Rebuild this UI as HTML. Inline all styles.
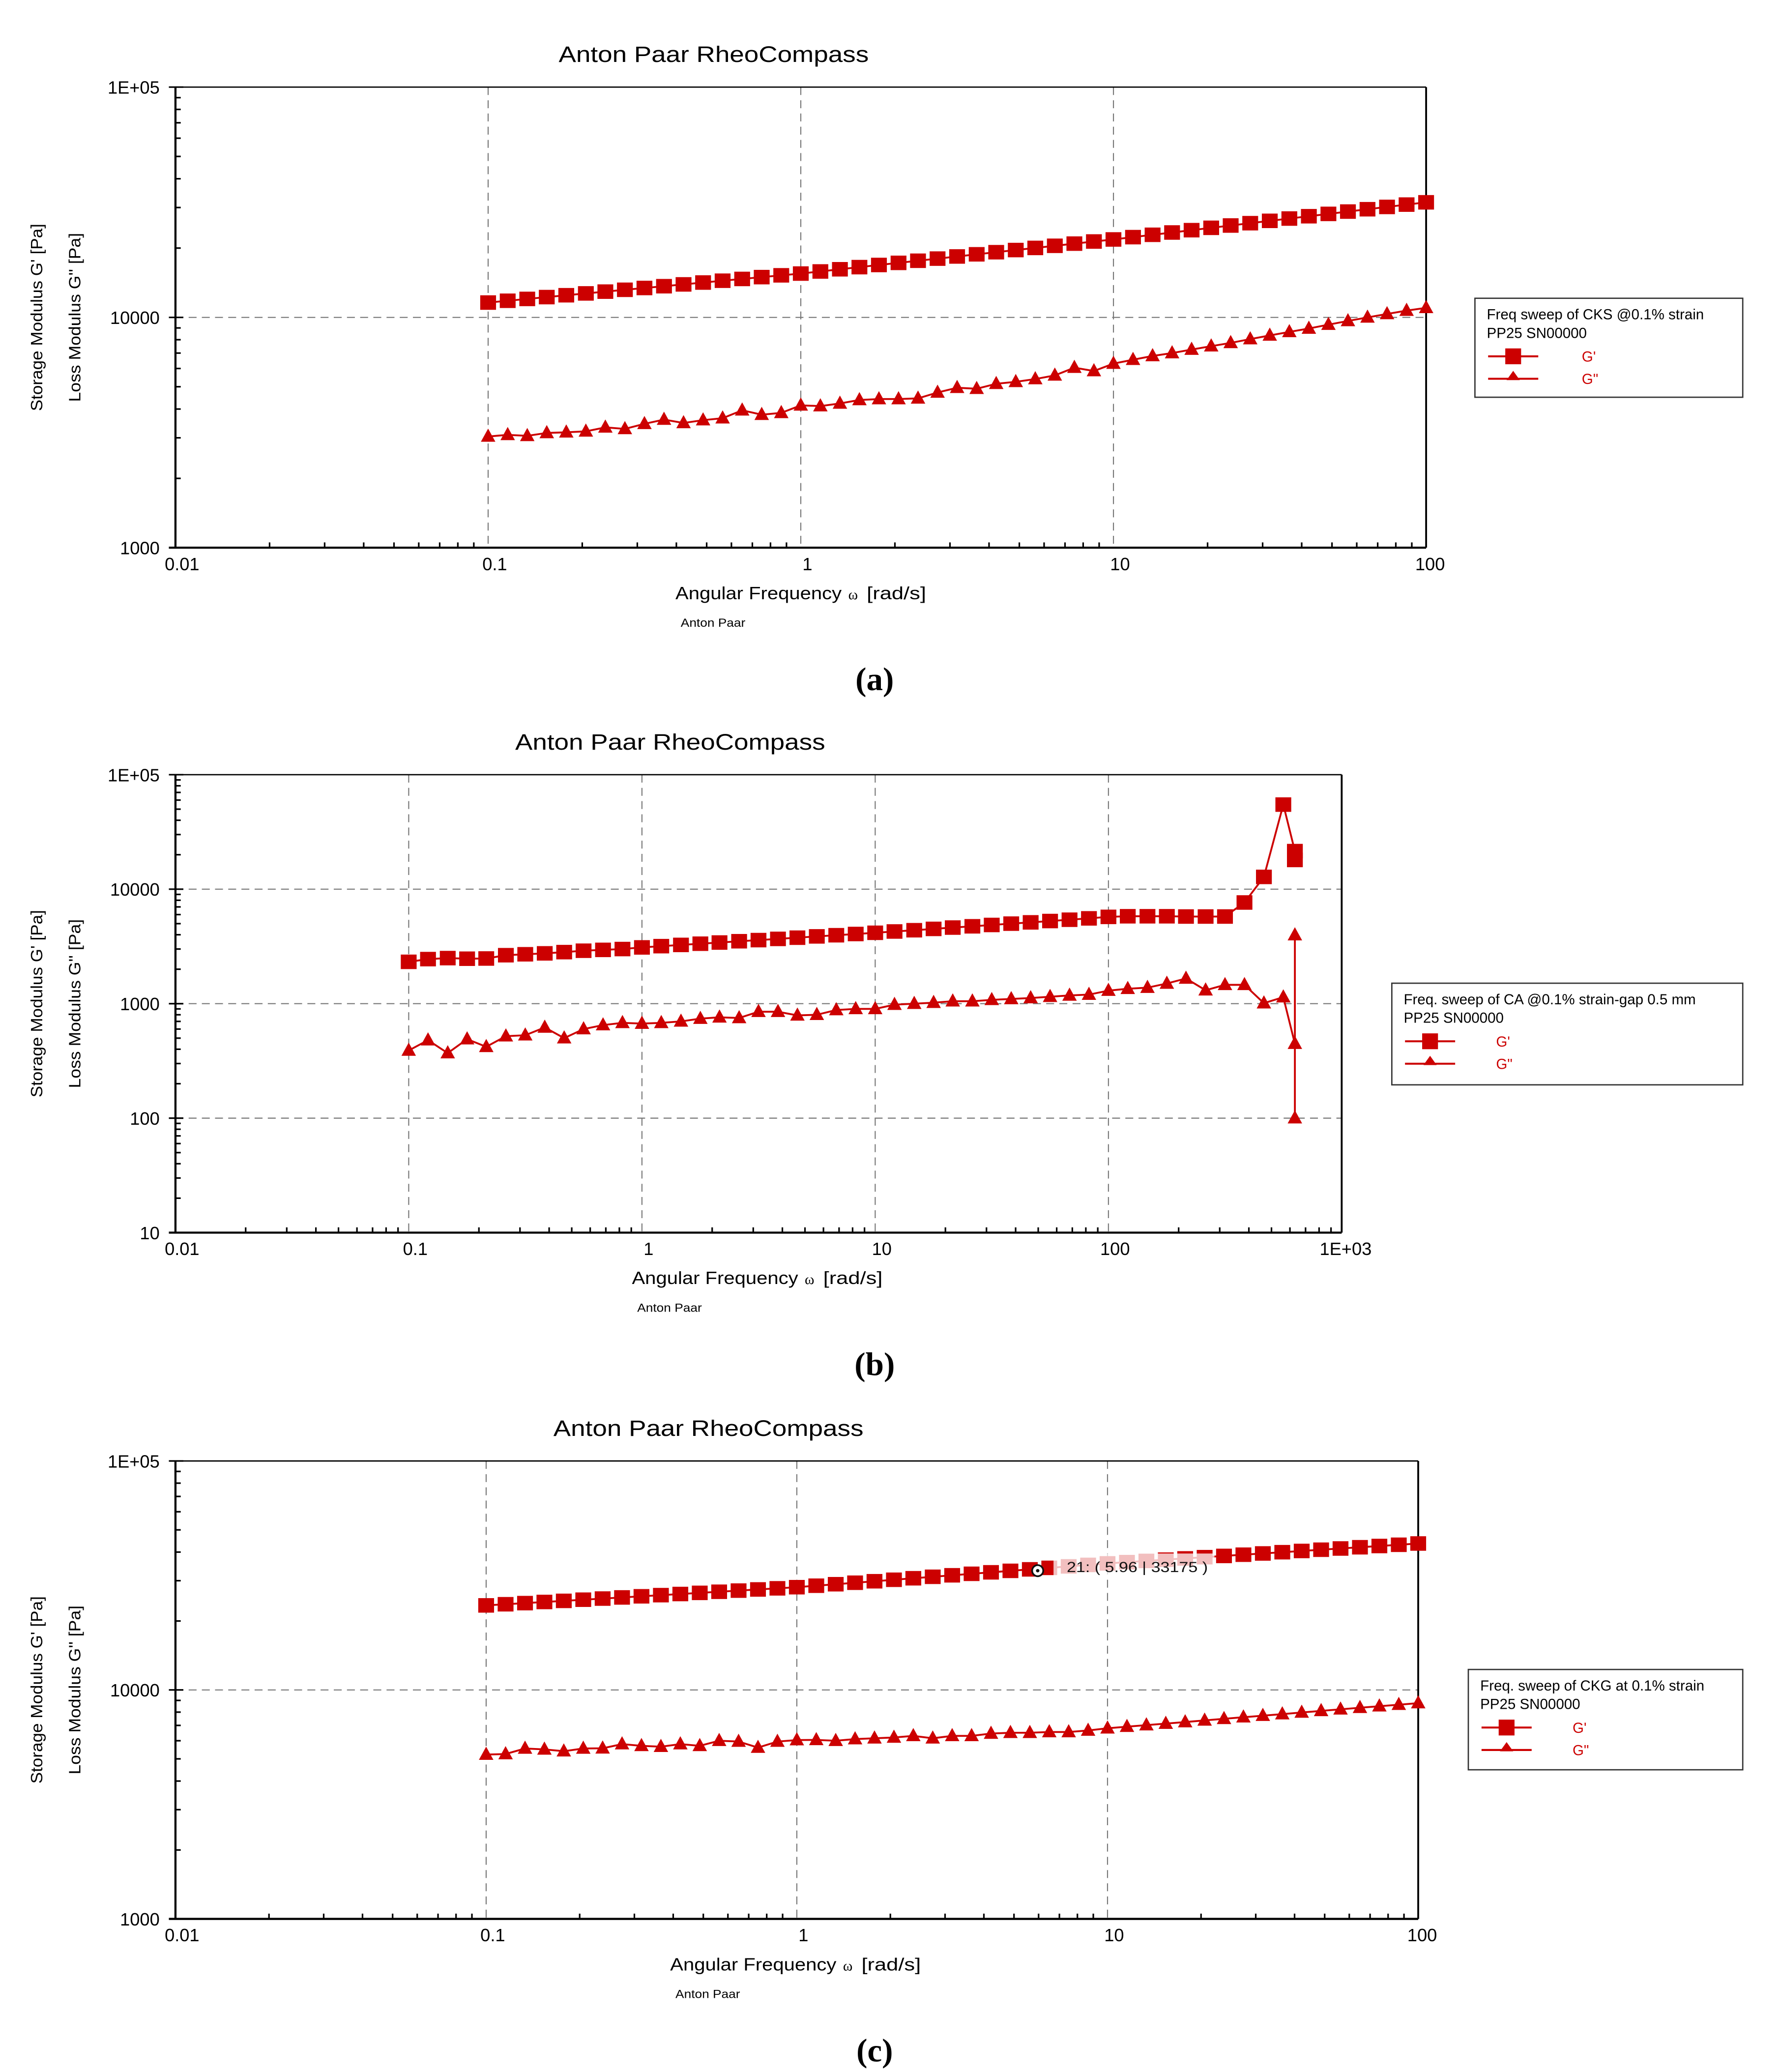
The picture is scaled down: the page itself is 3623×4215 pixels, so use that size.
<!DOCTYPE html>
<html><head><meta charset="utf-8">
<style>
html,body{margin:0;padding:0;background:#fff;}
svg{display:block;}
text{font-family:"Liberation Sans",Arial,sans-serif;}
</style></head>
<body>
<svg id="fig" width="3623" height="4215" viewBox="0 0 1350 1570" preserveAspectRatio="none" xmlns="http://www.w3.org/2000/svg">
<rect width="1350" height="1570" fill="#fff"/>
</svg>
<script>
// ---------- Panel (a) data ----------
const freqA = [0.1,0.1155,0.1334,0.154,0.1778,0.2054,0.2371,0.2738,0.3162,0.3652,0.4217,0.487,0.5623,0.6494,0.7499,0.866,
1,1.155,1.334,1.54,1.778,2.054,2.371,2.738,3.162,3.652,4.217,4.87,5.623,6.494,7.499,8.66,
10,11.55,13.34,15.4,17.78,20.54,23.71,27.38,31.62,36.52,42.17,48.7,56.23,64.94,74.99,86.6,100];
const gpA = [11600,11810,12030,12250,12480,12710,12940,13180,13420,13660,13910,14170,14430,14690,14960,15230,
15500,15830,16180,16530,16890,17250,17620,18000,18390,18790,19190,19610,20030,20460,20910,21360,
21800,22310,22840,23370,23920,24490,25060,25650,26260,26870,27500,28150,28810,29490,30180,30890,31600];
const gppA = [3040,3090,3060,3150,3170,3200,3330,3280,3450,3600,3480,3580,3650,3950,3780,3850,
4150,4120,4230,4380,4420,4420,4450,4720,4950,4900,5150,5250,5400,5600,6050,5850,
6300,6550,6800,7000,7250,7500,7750,8050,8350,8650,8950,9300,9650,10000,10350,10700,11000];

// ---------- Panel (b) data ----------
const freqBgp = [0.1,0.121,0.147,0.178,0.215,0.261,0.316,0.383,0.464,0.562,0.681,0.825,
1,1.21,1.47,1.78,2.15,2.61,3.16,3.83,4.64,5.62,6.81,8.25,
10,12.1,14.7,17.8,21.5,26.1,31.6,38.3,46.4,56.2,68.1,82.5,
100,121,147,178,215,261,316,383,464,562,630,630];
const gpB = [2320,2450,2500,2470,2480,2650,2700,2750,2820,2900,2950,3000,
3100,3180,3260,3340,3420,3510,3590,3680,3770,3870,3960,4060,
4160,4270,4380,4500,4620,4740,4870,5000,5130,5270,5410,5560,
5730,5800,5800,5800,5770,5770,5770,7650,12800,54800,21500,18000];
const freqBgpp = [0.1,0.121,0.147,0.178,0.215,0.261,0.316,0.383,0.464,0.562,0.681,0.825,
1,1.21,1.47,1.78,2.15,2.61,3.16,3.83,4.64,5.62,6.81,8.25,
10,12.1,14.7,17.8,21.5,26.1,31.6,38.3,46.4,56.2,68.1,82.5,
100,121,147,178,215,261,316,383,464,562,630,630,630];
const gppB = [390,480,370,490,420,520,530,620,500,600,650,680,
670,680,700,740,760,750,850,850,790,800,880,900,
900,980,1000,1020,1050,1050,1080,1100,1120,1150,1180,1200,
1300,1350,1380,1500,1660,1310,1460,1460,1010,1140,447,3970,100];

// ---------- Panel (c) data ----------
const freqC = freqA.slice();
const gpC = [23400,23670,23940,24220,24490,24780,25060,25350,25640,25940,26240,26540,26840,27150,27470,27780,
28100,28520,28950,29390,29830,30280,30740,31200,31670,32150,32630,33120,33620,34130,34640,35160,
35700,36150,36600,37060,37530,38000,38480,38960,39450,39950,40450,40960,41470,41990,42520,43050,43600];
const gppC = [5220,5250,5550,5500,5400,5550,5560,5800,5700,5650,5800,5700,6000,5950,5600,5950,
6040,6050,6000,6100,6150,6200,6300,6150,6300,6300,6450,6500,6500,6550,6550,6650,
6800,6910,7020,7130,7240,7360,7480,7600,7720,7840,7970,8100,8230,8360,8490,8620,8760];
const tooltipC = [5.96, 33175];

const xTicksA = ["0.01","0.1","1","10","100"];
const yTicksA = ["1000","10000","1E+05"];
const xTicksB = ["0.01","0.1","1","10","100","1E+03"];
const yTicksB = ["10","100","1000","10000","1E+05"];

const NS = "http://www.w3.org/2000/svg";
const svg = document.getElementById('fig');
const RED = "#cc0000";

function mk(tag, attrs, parent){
  const e = document.createElementNS(NS, tag);
  for (const k in attrs) e.setAttribute(k, attrs[k]);
  (parent||svg).appendChild(e);
  return e;
}
function txt(s, attrs, parent){ const t = mk('text', attrs, parent); t.textContent = s; return t; }

function panel(P){
  const g = mk('g', {});
  
  
  const lx0 = Math.log10(P.xmin), lx1 = Math.log10(P.xmax);
  const ly0 = Math.log10(P.ymin), ly1 = Math.log10(P.ymax);
  const X = v => P.x0 + (Math.log10(v) - lx0) / (lx1 - lx0) * (P.x1 - P.x0);
  const Y = v => P.y1 - (Math.log10(v) - ly0) / (ly1 - ly0) * (P.y1 - P.y0);

  const tt = txt("Anton Paar RheoCompass", {x:P.titleX, y:P.y0-19, 'font-size':17, 'text-anchor':'middle', textLength:235, lengthAdjust:'spacingAndGlyphs'}, g);
  
  

  const grid = mk('g', {stroke:'#777', 'stroke-width':0.8, 'stroke-dasharray':'6,4'}, g);
  
  
  for (let e = Math.ceil(lx0)+1; e < lx1; e++) {
    const x = X(Math.pow(10,e));
    mk('line', {x1:x, x2:x, y1:P.y0, y2:P.y1}, grid);
  }
  for (let e = Math.ceil(ly0)+1; e < ly1; e++) {
    const y = Y(Math.pow(10,e));
    mk('line', {x1:P.x0, x2:P.x1, y1:y, y2:y}, grid);
  }
  mk('line', {x1:P.x0, x2:P.x1, y1:P.y0, y2:P.y0, stroke:'#000', 'stroke-width':1}, g);
  mk('line', {x1:P.x1, x2:P.x1, y1:P.y0, y2:P.y1, stroke:'#000', 'stroke-width':1.4}, g);
  const ya = mk('line', {x1:P.x0, x2:P.x0, y1:P.y0, y2:P.y1, stroke:'#000', 'stroke-width':1.6}, g);
  
  
  const xa = mk('line', {x1:P.x0-5, x2:P.x1, y1:P.y1, y2:P.y1, stroke:'#000', 'stroke-width':1.6}, g);
  
  

  const tk = mk('g', {stroke:'#000', 'stroke-width':1.2}, g);
  for (let e = Math.round(ly0); e < ly1; e++) {
    for (let m = 1; m < 10; m++) {
      const y = Y(m*Math.pow(10,e));
      mk('line', {x1:P.x0-(m===1?5:0), x2:P.x0+(m===1?6:4), y1:y, y2:y}, tk);
    }
  }
  mk('line', {x1:P.x0-5, x2:P.x0+6, y1:P.y0, y2:P.y0}, tk);
  for (let e = Math.round(lx0); e < lx1; e++) {
    for (let m = 2; m < 10; m++) {
      const x = X(m*Math.pow(10,e));
      mk('line', {x1:x, x2:x, y1:P.y1, y2:P.y1-4}, tk);
    }
  }
  P.yTicks.forEach((s, i) => {
    const t = txt(s, {x:P.x0-12, y:Y(P.ymin*Math.pow(10,i))+5, 'font-size':13.5, 'text-anchor':'end'}, g);
    
    
  });
  P.xTicks.forEach((s, i) => {
    const x = X(P.xmin*Math.pow(10,i));
    const t = txt(s, {x:x+ (i===P.xTicks.length-1?3:5), y:P.y1+17, 'font-size':13.5, 'text-anchor':'middle'}, g);
    
    
  });
  const yc = (P.y0+P.y1)/2;
  const yl1 = txt("Storage Modulus G'  [Pa]", {x:0, y:0, 'font-size':12.5, 'text-anchor':'middle', transform:`translate(32,${yc}) rotate(-90)`, textLength:142, lengthAdjust:'spacingAndGlyphs'}, g);
  
  
  const yl2 = txt("Loss Modulus G''  [Pa]", {x:0, y:0, 'font-size':12.5, 'text-anchor':'middle', transform:`translate(61,${yc}) rotate(-90)`, textLength:128, lengthAdjust:'spacingAndGlyphs'}, g);
  
  
  const xl = txt("Angular Frequency ", {x:P.xlX, y:P.y1+39, 'font-size':13.5, textLength:126, lengthAdjust:'spacingAndGlyphs'}, g);
  
  
  txt("ω", {x:P.xlX+131, y:P.y1+39, 'font-size':11, style:'font-family:"Liberation Serif",serif'}, g);
  txt("[rad/s]", {x:P.xlX+145, y:P.y1+39, 'font-size':13.5, textLength:45, lengthAdjust:'spacingAndGlyphs'}, g);
  const ap = txt("Anton Paar", {x:P.xlX+4, y:P.y1+60, 'font-size':9, textLength:49, lengthAdjust:'spacingAndGlyphs'}, g);
  
  
  const pl = txt(P.label, {x:663, y:P.y1+108, 'font-size':25, 'font-weight':'bold', 'text-anchor':'middle', style:'font-family:"Liberation Serif",serif'}, g);
  
  

  function series(xs, ys, kind, nm){
    const sg = mk('g', {}, g);
    
    
    const pts = xs.map((v,i)=> X(v).toFixed(2)+','+Y(ys[i]).toFixed(2)).join(' ');
    mk('polyline', {points:pts, fill:'none', stroke:RED, 'stroke-width':1.4}, sg);
    xs.forEach((v,i)=>{
      const x = X(v), y = Y(ys[i]);
      let m;
      if (kind==='sq') m = mk('rect', {x:x-6, y:y-5.5, width:12, height:11, fill:RED}, sg);
      else m = mk('polygon', {points:`${x},${y-6} ${x+5.5},${y+4} ${x-5.5},${y+4}`, fill:RED}, sg);
      
      
    });
  }
  series(P.fx1, P.s1, 'sq', 'series-g-prime');
  series(P.fx2, P.s2, 'tri', 'series-g-double-prime');

  const L = P.leg;
  const lg = mk('g', {}, g);
  
  
  mk('rect', {x:L.x, y:L.y, width:L.w, height:L.h, fill:'#fff', stroke:'#333', 'stroke-width':1}, lg);
  txt(L.t1, {x:L.x+9, y:L.y+16, 'font-size':11}, lg);
  txt("PP25 SN00000", {x:L.x+9, y:L.y+30, 'font-size':11}, lg);
  const e1 = mk('g', {}, lg);
  
  
  mk('line', {x1:L.x+10, x2:L.x+48, y1:L.y+44, y2:L.y+44, stroke:RED, 'stroke-width':1.5}, e1);
  mk('rect', {x:L.x+23, y:L.y+38, width:12, height:12, fill:RED}, e1);
  txt("G'", {x:L.x+L.gx, y:L.y+48, 'font-size':11, fill:RED}, e1);
  const e2 = mk('g', {}, lg);
  
  
  mk('line', {x1:L.x+10, x2:L.x+48, y1:L.y+61, y2:L.y+61, stroke:RED, 'stroke-width':1.5}, e2);
  mk('polygon', {points:`${L.x+29},${L.y+55} ${L.x+34},${L.y+62} ${L.x+24},${L.y+62}`, fill:RED}, e2);
  txt('G"', {x:L.x+L.gx, y:L.y+65, 'font-size':11, fill:RED}, e2);

  return {X, Y, g};
}

panel({name:'chart-a', label:'(a)', x0:133, x1:1081, y0:66, y1:415, xmin:0.01, xmax:100, ymin:1000, ymax:1e5,
  titleX:541, xlX:512, xTicks:xTicksA, yTicks:yTicksA, fx1:freqA, s1:gpA, fx2:freqA, s2:gppA,
  leg:{x:1118, y:226, w:203, h:75, gx:81, t1:"Freq sweep of CKS @0.1% strain"}});

panel({name:'chart-b', label:'(b)', x0:133, x1:1017, y0:587, y1:934, xmin:0.01, xmax:1000, ymin:10, ymax:1e5,
  titleX:508, xlX:479, xTicks:xTicksB, yTicks:yTicksB, fx1:freqBgp, s1:gpB, fx2:freqBgpp, s2:gppB,
  leg:{x:1055, y:745, w:266, h:77, gx:79, t1:"Freq. sweep of CA @0.1% strain-gap 0.5 mm"}});

const pc = panel({name:'chart-c', label:'(c)', x0:133, x1:1075, y0:1107, y1:1454, xmin:0.01, xmax:100, ymin:1000, ymax:1e5,
  titleX:537, xlX:508, xTicks:xTicksA, yTicks:yTicksA, fx1:freqC, s1:gpC, fx2:freqC, s2:gppC,
  leg:{x:1113, y:1265, w:208, h:76, gx:79, t1:"Freq. sweep of CKG at 0.1% strain"}});

(function(){
  const tx = pc.X(tooltipC[0]), ty = pc.Y(tooltipC[1]);
  const tg = mk('g', {}, pc.g);
  
  
  mk('rect', {x:tx+12, y:ty-13, width:122, height:17, fill:'#fff', opacity:0.75}, tg);
  mk('circle', {cx:tx, cy:ty, r:4.2, fill:'#fff', stroke:'#111', 'stroke-width':1.3}, tg);
  mk('circle', {cx:tx, cy:ty, r:1.3, fill:'#111'}, tg);
  txt(`21:  ( ${tooltipC[0]} | ${tooltipC[1]} )`, {x:tx+22, y:ty+1, 'font-size':11, fill:'#111', textLength:107, lengthAdjust:'spacingAndGlyphs'}, tg);
})();
</script>
</body></html>
